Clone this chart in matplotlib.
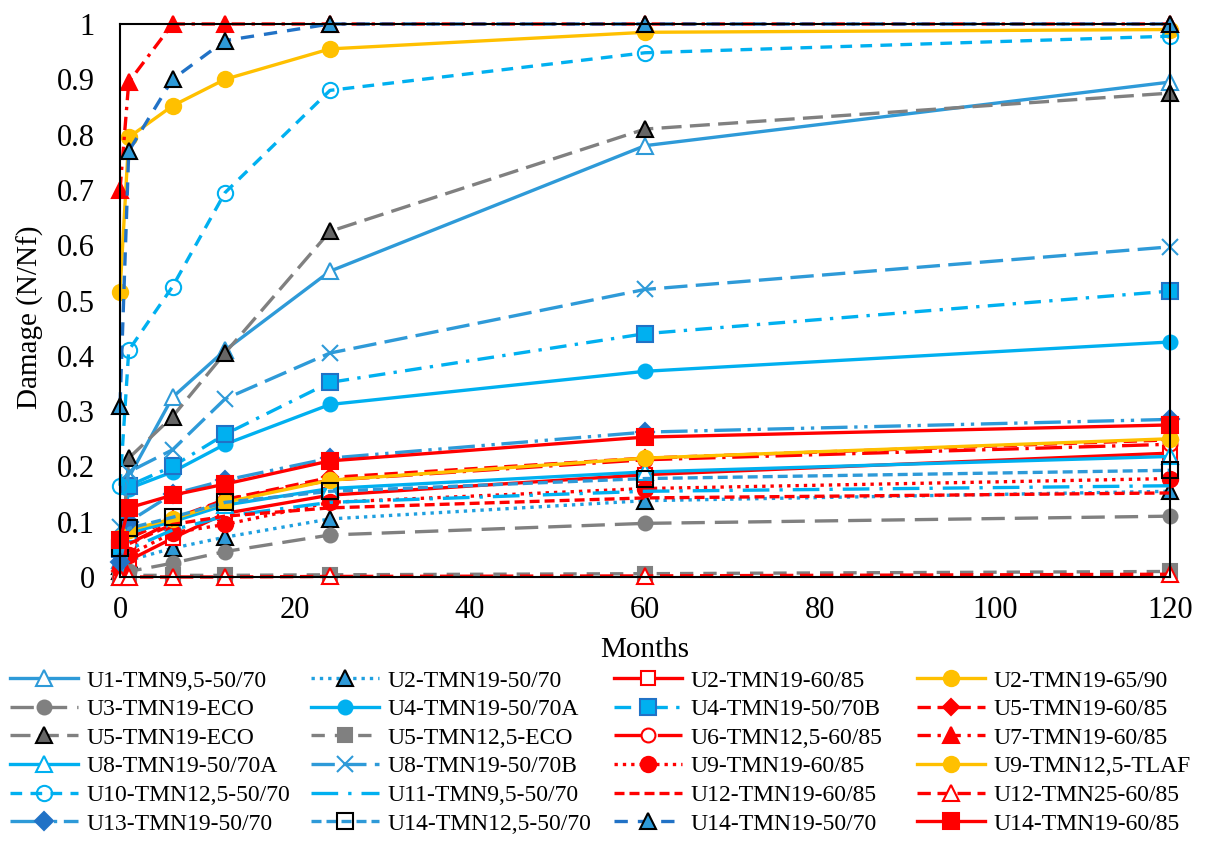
import matplotlib.pyplot as plt

plt.rcParams['font.family'] = ['Liberation Serif', 'DejaVu Serif']

months = [0, 1, 6, 12, 24, 60, 120]

# damage values (N/Nf)
u1_tmn95_5070 = [0.03, 0.18, 0.325, 0.41, 0.553, 0.78, 0.895]
u2_tmn19_5070 = [0.02, 0.03, 0.052, 0.072, 0.105, 0.138, 0.155]
u2_tmn19_6085 = [0.0, 0.03, 0.07, 0.115, 0.148, 0.185, 0.224]
u2_tmn19_6590 = [0.515, 0.795, 0.852, 0.90, 0.955, 0.985, 0.99]
u3_tmn19_eco = [0.0, 0.01, 0.025, 0.046, 0.076, 0.097, 0.11]
u4_tmn19_5070a = [0.04, 0.16, 0.19, 0.24, 0.312, 0.372, 0.425]
u4_tmn19_5070b = [0.05, 0.165, 0.2, 0.258, 0.352, 0.44, 0.517]
u5_tmn19_6085 = [0.01, 0.07, 0.105, 0.14, 0.18, 0.215, 0.248]
u5_tmn19_eco = [0.01, 0.215, 0.29, 0.405, 0.625, 0.81, 0.875]
u5_tmn125_eco = [0.003, 0.003, 0.003, 0.003, 0.004, 0.006, 0.01]
u6_tmn125_6085 = [0.0, 0.06, 0.1, 0.14, 0.175, 0.212, 0.24]
u7_tmn19_6085 = [0.70, 0.895, 1.0, 1.0, 1.0, 1.0, 1.0]
u8_tmn19_5070a = [0.0, 0.08, 0.1, 0.13, 0.16, 0.19, 0.218]
u8_tmn19_5070b = [0.09, 0.19, 0.23, 0.322, 0.405, 0.52, 0.597]
u9_tmn19_6085 = [0.015, 0.04, 0.08, 0.095, 0.135, 0.16, 0.178]
u9_tmn125_tlaf = [0.07, 0.085, 0.105, 0.135, 0.175, 0.215, 0.25]
u10_tmn125_5070 = [0.165, 0.41, 0.525, 0.695, 0.88, 0.948, 0.978]
u11_tmn95_5070 = [0.0, 0.05, 0.085, 0.11, 0.135, 0.155, 0.165]
u12_tmn19_6085 = [0.01, 0.06, 0.095, 0.11, 0.125, 0.143, 0.152]
u12_tmn25_6085 = [0.0, 0.0, 0.0, 0.0, 0.001, 0.002, 0.005]
u13_tmn19_5070 = [0.027, 0.1, 0.15, 0.175, 0.215, 0.262, 0.285]
u14_tmn125_5070 = [0.052, 0.088, 0.108, 0.135, 0.155, 0.178, 0.193]
u14_tmn19_5070 = [0.31, 0.77, 0.9, 0.97, 1.0, 1.0, 1.0]
u14_tmn19_6085 = [0.067, 0.125, 0.148, 0.168, 0.21, 0.253, 0.275]

BLUE = '#2E9AD8'
LBLUE = '#00B0F0'
DBLUE = '#2172C6'
RED = '#FF0000'
GOLD = '#FFC000'
GRAY = '#808080'

fig = plt.figure(figsize=(12.06, 8.41), dpi=100)
ax = fig.add_axes([120 / 1206, 1 - 577 / 841, 1050 / 1206, 553 / 841])

lw = 2.4


def draw(y, label, color, dashes=None, marker=None, ms=9, mfc=None, mec=None, mew=1.5):
    kw = dict(color=color, lw=lw, marker=marker, ms=ms,
              mfc=color if mfc is None else mfc,
              mec=color if mec is None else mec, mew=mew,
              label=label, clip_on=False)
    line, = ax.plot(months, y, **kw)
    if dashes is not None:
        line.set_dashes(dashes)
    return line


h = {}
h['U1'] = draw(u1_tmn95_5070, 'U1-TMN9,5-50/70', BLUE, None, '^', 11, 'white', BLUE)
h['U2a'] = draw(u2_tmn19_5070, 'U2-TMN19-50/70', '#1FA0E0', (1, 1.5), '^', 11, BLUE, 'black')
h['U2b'] = draw(u2_tmn19_6085, 'U2-TMN19-60/85', RED, None, 's', 10, 'white', RED)
h['U2c'] = draw(u2_tmn19_6590, 'U2-TMN19-65/90', GOLD, None, 'o', 11)
h['U3'] = draw(u3_tmn19_eco, 'U3-TMN19-ECO', GRAY, (7, 3), 'o', 10)
h['U4a'] = draw(u4_tmn19_5070a, 'U4-TMN19-50/70A', LBLUE, None, 'o', 10)
h['U4b'] = draw(u4_tmn19_5070b, 'U4-TMN19-50/70B', LBLUE, (5, 2.5, 1, 2.5), 's', 11, LBLUE, DBLUE)
h['U5a'] = draw(u5_tmn19_6085, 'U5-TMN19-60/85', RED, (4, 2), 'D', 8)
h['U5b'] = draw(u5_tmn19_eco, 'U5-TMN19-ECO', GRAY, (6, 2.5), '^', 11, '#666666', 'black')
h['U5c'] = draw(u5_tmn125_eco, 'U5-TMN12,5-ECO', GRAY, (4, 3), 's', 10)
h['U6'] = draw(u6_tmn125_6085, 'U6-TMN12,5-60/85', RED, (8, 2, 1, 2), 'o', 10, 'white', RED)
h['U7'] = draw(u7_tmn19_6085, 'U7-TMN19-60/85', RED, (4, 2, 1, 2), '^', 11)
h['U8a'] = draw(u8_tmn19_5070a, 'U8-TMN19-50/70A', LBLUE, None, '^', 11, 'white', LBLUE)
h['U8b'] = draw(u8_tmn19_5070b, 'U8-TMN19-50/70B', BLUE, (7, 2.5), 'x', 12)
h['U9a'] = draw(u9_tmn19_6085, 'U9-TMN19-60/85', RED, (1, 1.5), 'o', 11)
h['U9b'] = draw(u9_tmn125_tlaf, 'U9-TMN12,5-TLAF', GOLD, None, 'o', 11)
h['U10'] = draw(u10_tmn125_5070, 'U10-TMN12,5-50/70', LBLUE, (3.5, 2.5), 'o', 11, 'none', LBLUE)
h['U11'] = draw(u11_tmn95_5070, 'U11-TMN9,5-50/70', LBLUE, (8, 3, 1, 3))
h['U12a'] = draw(u12_tmn19_6085, 'U12-TMN19-60/85', RED, (3, 1.5))
h['U12b'] = draw(u12_tmn25_6085, 'U12-TMN25-60/85', RED, (4, 2), '^', 11, 'white', RED)
h['U13'] = draw(u13_tmn19_5070, 'U13-TMN19-50/70', BLUE, (8, 2, 1, 2, 1, 2), 'D', 9, DBLUE, DBLUE)
h['U14a'] = draw(u14_tmn125_5070, 'U14-TMN12,5-50/70', BLUE, (3, 1.5), 's', 11, 'none', 'black')
h['U14b'] = draw(u14_tmn19_5070, 'U14-TMN19-50/70', DBLUE, (4, 3), '^', 11, BLUE, 'black')
h['U14c'] = draw(u14_tmn19_6085, 'U14-TMN19-60/85', RED, None, 's', 11)

ax.set_xlim(0, 120)
ax.set_ylim(0, 1)
ax.set_xticks(range(0, 121, 20))
ax.set_yticks([i / 10 for i in range(11)])
ax.set_yticklabels(['0', '0.1', '0.2', '0.3', '0.4', '0.5', '0.6', '0.7', '0.8', '0.9', '1'])
ax.tick_params(length=0, labelsize=22)
ax.tick_params(axis='y', pad=18)
ax.tick_params(axis='x', pad=14)
for s in ax.spines.values():
    s.set_linewidth(1.5)
    s.set_color('black')
ax.set_xlabel('Months', fontsize=21)
ax.xaxis.set_label_coords(0.5, (577 - 637) / 553)
ax.set_ylabel('Damage (N/Nf)', fontsize=21)
ax.yaxis.set_label_coords((44 - 120) / 1050, (577 - 317) / 553)

cols = [
    ['U1', 'U3', 'U5b', 'U8a', 'U10', 'U13'],
    ['U2a', 'U4a', 'U5c', 'U8b', 'U11', 'U14a'],
    ['U2b', 'U4b', 'U6', 'U9a', 'U12a', 'U14b'],
    ['U2c', 'U5a', 'U7', 'U9b', 'U12b', 'U14c'],
]
col_x = [10, 311, 614, 917]
for keys, x0 in zip(cols, col_x):
    hs = [h[k] for k in keys]
    fig.legend(hs, [l.get_label() for l in hs], loc='upper left',
               bbox_to_anchor=(x0 / 1206, 1 - 670 / 841), frameon=False,
               fontsize=17, handlelength=2.9, handletextpad=0.33,
               labelspacing=0.3, borderpad=0, borderaxespad=0, numpoints=1)

fig.savefig('out.png', dpi=100)
